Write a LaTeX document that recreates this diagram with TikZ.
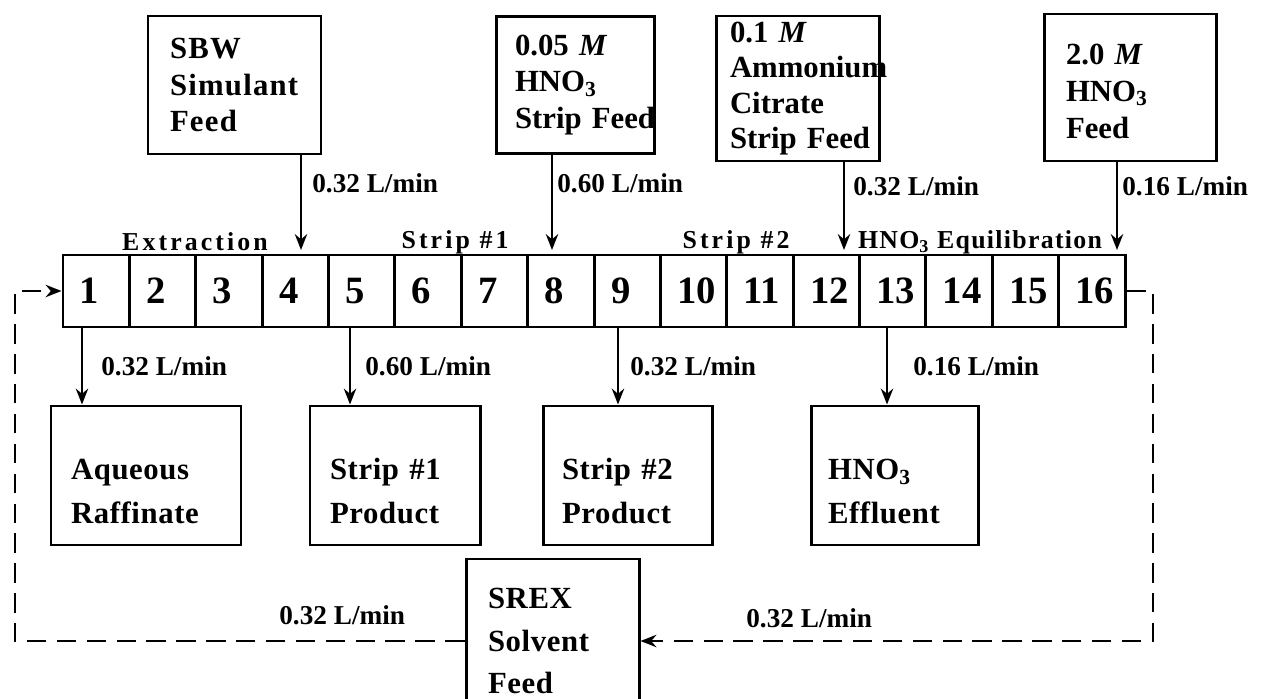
\documentclass[tikz,border=0pt]{standalone}
\usepackage{fontspec}
\setmainfont{Liberation Serif}
\usetikzlibrary{positioning,arrows.meta}

\begin{document}
\begin{tikzpicture}[>=Stealth,
  box/.style={draw,line width=1.7pt,inner ysep=0pt,align=left,
    font=\bfseries\fontsize{17.5}{21}\selectfont},
  sink/.style={box,minimum height=2.78cm,text height=34.5pt,text depth=30pt,
    font=\bfseries\fontsize{17.5}{25}\selectfont\addfontfeature{LetterSpace=2}},
  stage/.style={draw,line width=1.7pt,minimum width=1.3275cm,minimum height=1.44cm,
    inner xsep=0.34cm,inner ysep=0pt,text width=0.6475cm,align=left,
    font=\bfseries\fontsize{22}{24}\selectfont},
  rate/.style={anchor=west,inner sep=0pt,font=\bfseries\fontsize{15.5}{18}\selectfont},
  zone/.style={inner sep=0pt,font=\bfseries\fontsize{14.7}{17}\selectfont\addfontfeature{LetterSpace=12}},
  flow/.style={->,line width=1.4pt,>={Stealth[length=9pt,width=7pt]}},
  recycle/.style={->,line width=1.5pt,dash pattern=on 11pt off 6pt,>={Stealth[length=9pt,width=7pt]}}]
  \useasboundingbox (0,0) rectangle (25.52,13.96);

  % ---- contactor bank ----
  \foreach \i in {1,...,16}
    \node[stage] (s\i) at ({1.26+(\i-0.5)*1.3275},8.14) {\i};
  \node[zone] (zext) at (3.9,9.12) {Extraction};
  \node[zone] (zs1) at (9.1,9.12) {Strip \#1};
  \node[zone] (zs2) at (14.72,9.12) {Strip \#2};
  \node[zone,font=\bfseries\fontsize{14.7}{17}\selectfont\addfontfeature{LetterSpace=5}] (zeq) at (19.6,9.12) {HNO\textsubscript{3} Equilibration};

  % ---- feeds ----
  \node[box,minimum height=2.76cm,inner xsep=0.44cm,text width=2.58cm,
    font=\bfseries\fontsize{17.5}{21}\selectfont\addfontfeature{LetterSpace=4}] (sbw) at (4.69,12.26) {SBW\\Simulant\\Feed};
  \node[box,minimum height=2.74cm,inner xsep=0.38cm,text width=2.4cm] (hnoa) at (11.5,12.26) {0.05 \textit{M}\\HNO\textsubscript{3}\\Strip~Feed};
  \node[box,minimum height=2.9cm,inner xsep=0.28cm,text width=2.7cm,
    font=\bfseries\fontsize{17.5}{20}\selectfont] (citr) at (15.95,12.19) {0.1 \textit{M}\\Ammonium\\Citrate\\Strip~Feed};
  \node[box,minimum height=2.94cm,inner xsep=0.44cm,text width=2.56cm,text height=16pt] (hnob) at (22.6,12.21) {2.0 \textit{M}\\HNO\textsubscript{3}\\Feed};
  \coordinate (in4) at (6.02,8.96);
  \coordinate (in8) at (11.04,8.96);
  \coordinate (in12) at (16.88,8.96);
  \coordinate (in16) at (22.34,8.96);
  \draw[flow] (sbw.south -| in4) -- (in4);
  \draw[flow] (hnoa.south -| in8) -- (in8);
  \draw[flow] (citr.south -| in12) -- (in12);
  \draw[flow] (hnob.south -| in16) -- (in16);
  \node[rate] (ra) at (6.24,10.3) {0.32 L/min};
  \node[rate] (rb) at (11.14,10.3) {0.60 L/min};
  \node[rate] (rc) at (17.06,10.24) {0.32 L/min};
  \node[rate] (rd) at (22.44,10.24) {0.16 L/min};

  % ---- products ----
  \node[sink,inner xsep=0.4cm,text width=3.0cm] (aq) at (2.92,4.45) {Aqueous\\Raffinate};
  \node[sink,inner xsep=0.4cm,text width=2.6cm] (pa) at (7.9,4.45) {Strip \#1\\Product};
  \node[sink,inner xsep=0.38cm,text width=2.62cm] (pb) at (12.55,4.45) {Strip \#2\\Product};
  \node[sink,inner xsep=0.34cm,text width=2.66cm] (eff) at (17.89,4.45) {HNO\textsubscript{3}\\Effluent};
  \coordinate (o1) at (1.64,7.42);
  \coordinate (o5) at (7.0,7.42);
  \coordinate (o9) at (12.36,7.42);
  \coordinate (o13) at (17.74,7.42);
  \draw[flow] (o1) -- (o1 |- aq.north);
  \draw[flow] (o5) -- (o5 |- pa.north);
  \draw[flow] (o9) -- (o9 |- pb.north);
  \draw[flow] (o13) -- (o13 |- eff.north);
  \node[rate] (re) at (2.02,6.64) {0.32 L/min};
  \node[rate] (rf) at (7.3,6.64) {0.60 L/min};
  \node[rate] (rg) at (12.6,6.64) {0.32 L/min};
  \node[rate] (rh) at (18.26,6.64) {0.16 L/min};

  % ---- solvent recycle ----
  \node[box,minimum height=3.28cm,inner xsep=0.44cm,text width=2.58cm,
    font=\bfseries\fontsize{17.5}{24}\selectfont\addfontfeature{LetterSpace=2}] (srex) at (11.05,1.14) {SREX\\Solvent\\Feed};
  \coordinate (lc) at (0.3,8.14);
  \coordinate (rcy) at (23.06,8.14);
  \draw[recycle] (s16.east) -| (rcy) |- (srex.east);
  \draw[recycle] (srex.west) -| (lc) |- (s1.west);
  \node[rate] (rl) at (5.58,1.66) {0.32 L/min};
  \node[rate] (rr) at (14.92,1.6) {0.32 L/min};
\end{tikzpicture}
\end{document}
